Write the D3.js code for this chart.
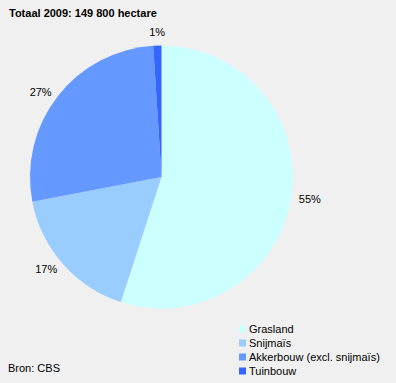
<!DOCTYPE html>
<html>
<head>
<meta charset="utf-8">
<script src="https://cdn.jsdelivr.net/npm/d3@7"></script>
<style>
    body { margin: 0; background: #f0f0f0; }
    svg { display: block; font-family: "Liberation Sans", Arial, sans-serif; }
</style>
</head>
<body>
<script>
// ---------------------- DATA ----------------------
const categories = ["Grasland", "Snijmaïs", "Akkerbouw (excl. snijmaïs)", "Tuinbouw"];
const shares = [55, 17, 27, 1];
const colors = ["#ccffff", "#99ccff", "#6699ff", "#3366ff"];
const title = "Totaal 2009: 149 800 hectare";
const source = "Bron: CBS";

const width = 396, height = 383;
const cx = 161.5, cy = 177, radius = 131.5, labelRadius = 139;

const svg = d3.select("body").append("svg")
    .attr("width", width)
    .attr("height", height);

svg.append("rect")
    .attr("width", width)
    .attr("height", height)
    .attr("fill", "#f0f0f0");

// title
svg.append("text")
    .attr("x", 9)
    .attr("y", 17)
    .attr("font-size", 11)
    .attr("font-weight", "bold")
    .text(title);

// pie, clockwise from 12 o'clock
const pie = d3.pie().sort(null).value(d => d);
const arcs = pie(shares);
const arc = d3.arc().innerRadius(0).outerRadius(radius);
const labelArc = d3.arc().innerRadius(labelRadius).outerRadius(labelRadius);

const g = svg.append("g").attr("transform", `translate(${cx},${cy})`);

g.selectAll("path")
    .data(arcs)
    .join("path")
    .attr("d", arc)
    .attr("fill", (d, i) => colors[i]);

// labels: anchored on the side they sit, centred near the top
function anchorFor(d) {
    const [x, y] = labelArc.centroid(d);
    if (Math.abs(x) < 15) return "middle";
    return x < 0 ? "end" : "start";
}

g.selectAll("text")
    .data(arcs)
    .join("text")
    .attr("transform", d => {
        const [x, y] = labelArc.centroid(d);
        return anchorFor(d) === "middle" ? `translate(${x},${y - 6})` : `translate(${x},${y})`;
    })
    .attr("text-anchor", anchorFor)
    .attr("dy", "0.35em")
    .attr("font-size", 11)
    .text(d => d.data + "%");

// legend
const legend = svg.append("g").attr("transform", "translate(239,329)");
const rows = legend.selectAll("g")
    .data(categories)
    .join("g")
    .attr("transform", (d, i) => `translate(0,${i * 14})`);

rows.append("rect")
    .attr("x", 0)
    .attr("y", -3.5)
    .attr("width", 7)
    .attr("height", 7)
    .attr("fill", (d, i) => colors[i]);

rows.append("text")
    .attr("x", 10)
    .attr("dy", "0.35em")
    .attr("font-size", 11)
    .text(d => d);

// source
svg.append("text")
    .attr("x", 8)
    .attr("y", 372)
    .attr("font-size", 11)
    .text(source);
</script>
</body>
</html>
